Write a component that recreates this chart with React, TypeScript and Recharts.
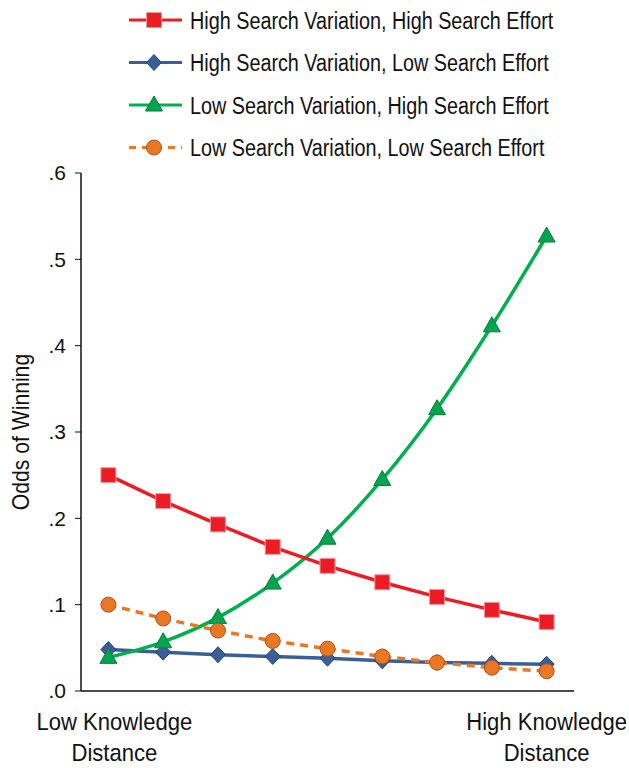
import React from "react";
import { LineChart, Line, XAxis, YAxis } from "recharts";

// knowledge distance steps, low -> high
const steps = [0, 1, 2, 3, 4, 5, 6, 7, 8];

const hiVarHiEffort = [0.25, 0.22, 0.193, 0.167, 0.145, 0.126, 0.109, 0.094, 0.08];
const hiVarLoEffort = [0.048, 0.045, 0.042, 0.04, 0.038, 0.035, 0.033, 0.032, 0.031];
const loVarHiEffort = [0.039, 0.057, 0.085, 0.125, 0.177, 0.245, 0.327, 0.423, 0.527];
const loVarLoEffort = [0.1, 0.084, 0.07, 0.058, 0.049, 0.04, 0.033, 0.027, 0.023];

const yTicks = [0, 0.1, 0.2, 0.3, 0.4, 0.5, 0.6];
const xTickLabels: Record<number, string[]> = {
  0: ["Low Knowledge", "Distance"],
  8: ["High Knowledge", "Distance"],
};

// no condensed face installed, so the text gets squeezed horizontally
const FONT = "'Liberation Sans', Arial, sans-serif";

const RED = "#ec1c24";
const BLUE = "#3b5f95";
const GREEN = "#00b04f";
const ORANGE = "#ea7724";

const data = steps.map((s, i) => ({
  step: s,
  hh: hiVarHiEffort[i],
  hl: hiVarLoEffort[i],
  lh: loVarHiEffort[i],
  ll: loVarLoEffort[i],
}));

type Shape = "square" | "diamond" | "triangle" | "circle";

const Marker = ({ shape, cx, cy }: { shape: Shape; cx: number; cy: number }) => {
  if (shape === "square")
    return <rect x={cx - 7.5} y={cy - 7.5} width={15} height={15} fill={RED} stroke="#f29aa0" strokeWidth={1} />;
  if (shape === "diamond")
    return (
      <polygon
        points={`${cx},${cy - 8} ${cx + 7.5},${cy} ${cx},${cy + 8} ${cx - 7.5},${cy}`}
        fill={BLUE}
        stroke="#234472"
        strokeWidth={1}
      />
    );
  if (shape === "triangle")
    return (
      <polygon
        points={`${cx},${cy - 9} ${cx + 8.5},${cy + 6} ${cx - 8.5},${cy + 6}`}
        fill="#00a54f"
        stroke="#0d7a3c"
        strokeWidth={1}
      />
    );
  return <circle cx={cx} cy={cy} r={7.5} fill={ORANGE} stroke="#a9531a" strokeWidth={1} />;
};

const dotFor = (shape: Shape) => (props: any) =>
  <Marker key={`${shape}-${props.index}`} shape={shape} cx={props.cx} cy={props.cy} />;

const legendItems: { label: string; color: string; shape: Shape; dash?: string }[] = [
  { label: "High Search Variation, High Search Effort", color: RED, shape: "square" },
  { label: "High Search Variation, Low Search Effort", color: BLUE, shape: "diamond" },
  { label: "Low Search Variation, High Search Effort", color: GREEN, shape: "triangle" },
  { label: "Low Search Variation, Low Search Effort", color: ORANGE, shape: "circle", dash: "7 6" },
];

const ChartLegend = () => (
  <svg width={629} height={170} style={{ position: "absolute", left: 0, top: 0 }}>
    {legendItems.map((it, i) => {
      const y = 20 + i * 42.5;
      return (
        <g key={it.label}>
          <line x1={129} x2={182} y1={y} y2={y} stroke={it.color} strokeWidth={3} strokeDasharray={it.dash} />
          <Marker shape={it.shape} cx={154} cy={y} />
          <text
            transform={`translate(190 ${y + 8.5}) scale(0.842 1)`}
            fontFamily={FONT}
            fontSize={23.5}
            fill="#111"
          >
            {it.label}
          </text>
        </g>
      );
    })}
  </svg>
);

const XTick = ({ x, y, payload }: any) => {
  const lines = xTickLabels[payload.value];
  if (!lines) return null;
  const cx = payload.value === 0 ? x + 6 : x;
  return (
    <text transform={`translate(${cx} ${y}) scale(0.92 1)`} textAnchor="middle" fontFamily={FONT} fontSize={24} fill="#111">
      <tspan x={0} dy={31}>{lines[0]}</tspan>
      <tspan x={0} dy={31}>{lines[1]}</tspan>
    </text>
  );
};

const YLabel = () => (
  <text
    transform="translate(21 432) rotate(-90) scale(0.92 1)"
    textAnchor="middle"
    dominantBaseline="central"
    fontFamily={FONT}
    fontSize={23}
    fill="#111"
  >
    Odds of Winning
  </text>
);

export default function App() {
  return (
    <div style={{ position: "absolute", left: 0, top: 0, width: 629, height: 768, background: "#fff" }}>
      <ChartLegend />
      <LineChart width={629} height={768} data={data} margin={{ top: 173, right: 55, bottom: 17, left: 21 }}>
        <XAxis
          dataKey="step"
          type="number"
          domain={[-0.5, 8.5]}
          ticks={[0, 8]}
          tick={<XTick />}
          tickLine={false}
          axisLine={{ stroke: "#111", strokeWidth: 1.5 }}
          height={60}
        />
        <YAxis
          domain={[0, 0.6]}
          ticks={yTicks}
          width={60}
          tickSize={6}
          tickMargin={9}
          tickFormatter={(v: number) => v.toFixed(1).replace(/^0/, "")}
          tick={{ fontFamily: FONT, fontSize: 21, fill: "#111" }}
          tickLine={{ stroke: "#111" }}
          axisLine={{ stroke: "#111", strokeWidth: 1.5 }}
          label={<YLabel />}
        />
        <Line dataKey="hl" stroke={BLUE} strokeWidth={3.5} dot={dotFor("diamond")} isAnimationActive={false} />
        <Line
          dataKey="lh"
          type="monotone"
          stroke={GREEN}
          strokeWidth={3.5}
          dot={dotFor("triangle")}
          isAnimationActive={false}
        />
        <Line
          dataKey="ll"
          stroke={ORANGE}
          strokeWidth={3.5}
          strokeDasharray="8 6"
          dot={dotFor("circle")}
          isAnimationActive={false}
        />
        <Line dataKey="hh" stroke={RED} strokeWidth={3.5} dot={dotFor("square")} isAnimationActive={false} />
      </LineChart>
    </div>
  );
}
